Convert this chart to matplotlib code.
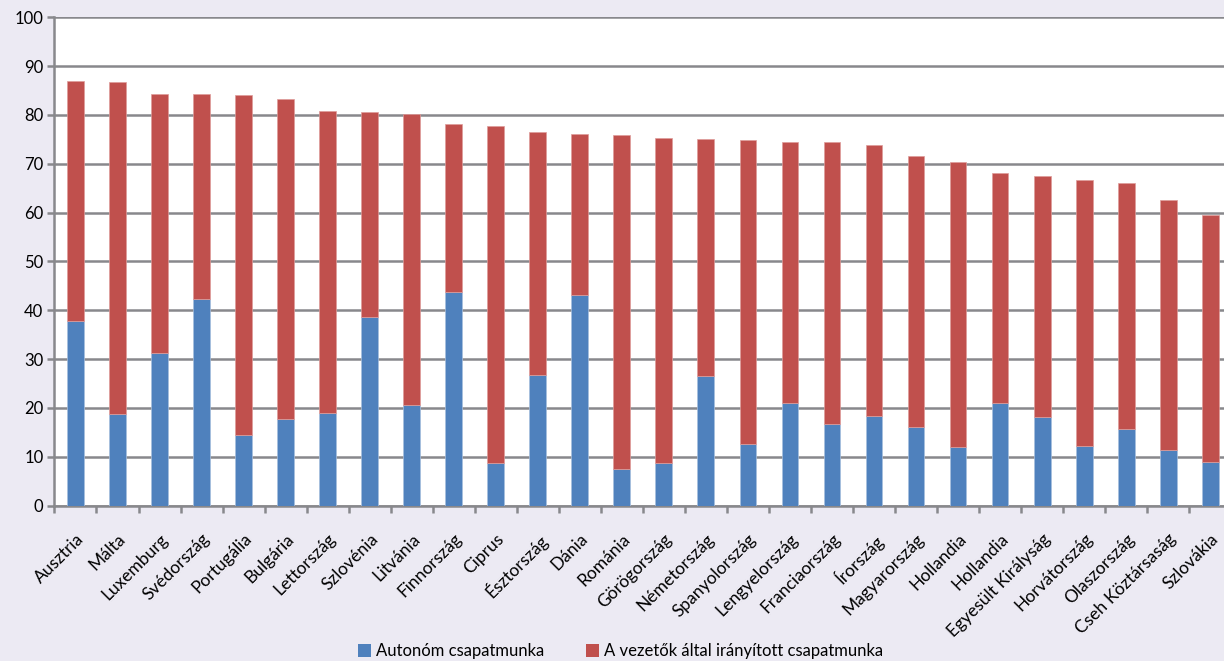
import numpy as np
import matplotlib.pyplot as plt
from matplotlib.patches import Patch

plt.rcParams['font.family'] = ['Lato', 'DejaVu Sans']

# Countries, sorted by total share of team work
countries = ['Ausztria', 'Málta', 'Luxemburg', 'Svédország', 'Portugália', 'Bulgária',
             'Lettország', 'Szlovénia', 'Litvánia', 'Finnország', 'Ciprus', 'Észtország',
             'Dánia', 'Románia', 'Görögország', 'Németország', 'Spanyolország',
             'Lengyelország', 'Franciaország', 'Írország', 'Magyarország', 'Hollandia',
             'Hollandia', 'Egyesült Királyság', 'Horvátország', 'Olaszország',
             'Cseh Köztársaság', 'Szlovákia']

# autonomous team work (%)
autonom = [37.8, 18.7, 31.3, 42.4, 14.4, 17.7, 18.9, 38.6, 20.6, 43.8, 8.7, 26.7,
           43.1, 7.5, 8.7, 26.5, 12.7, 21.0, 16.7, 18.4, 16.2, 12.0, 21.0, 18.1,
           12.2, 15.6, 11.5, 8.9]

# total team work (%)
total = [87.0, 86.8, 84.4, 84.4, 84.1, 83.2, 80.8, 80.7, 80.3, 78.1, 77.7, 76.5,
         76.1, 75.8, 75.2, 75.1, 74.9, 74.5, 74.4, 73.8, 71.7, 70.4, 68.1, 67.6,
         66.7, 66.1, 62.6, 59.5]

vezetett = [t - a for t, a in zip(total, autonom)]

blue = '#4F81BD'
red = '#C0504D'
bg = '#ECEAF3'
grid = '#88888C'

fig = plt.figure(figsize=(12.24, 6.61), dpi=100, facecolor=bg)
ax = fig.add_axes([0.0445, 0.235, 0.9614, 0.7388])
ax.set_facecolor('white')

x = np.arange(len(countries))
ax.bar(x, autonom, width=0.4, color=blue, edgecolor='#A7BFDE', linewidth=0.5, zorder=3)
ax.bar(x, vezetett, bottom=autonom, width=0.4, color=red, edgecolor='#DE9C9A',
       linewidth=0.5, zorder=3)

ax.set_xlim(-0.5, len(countries) - 0.5)
ax.set_ylim(0, 100)
ax.set_yticks(np.arange(0, 101, 10))
ax.yaxis.grid(True, color=grid, linewidth=1.8, zorder=0)
ax.set_axisbelow(True)

ax.set_xticks(np.arange(-0.5, len(countries), 1))
ax.set_xticklabels([])
ax.set_xticks(x, minor=True)
ax.set_xticklabels(countries, minor=True, rotation=45, ha='right',
                   rotation_mode='anchor', fontsize=12.5, color='black')
ax.tick_params(axis='x', which='major', length=5, width=1.8, color=grid, direction='out')
ax.tick_params(axis='x', which='minor', length=0, pad=18)
ax.tick_params(axis='y', length=5, width=1.8, color=grid, labelsize=12, pad=3)

for s in ['top', 'right']:
    ax.spines[s].set_visible(False)
for s in ['left', 'bottom']:
    ax.spines[s].set_color(grid)
    ax.spines[s].set_linewidth(1.8)

handles = [Patch(facecolor=blue, label='Autonóm csapatmunka'),
           Patch(facecolor=red, label='A vezetők által irányított csapatmunka')]
fig.legend(handles=handles, loc='lower center', bbox_to_anchor=(0.507, -0.02), ncol=2,
           frameon=False, fontsize=12, handlelength=0.8, handleheight=0.8,
           handletextpad=0.3, columnspacing=2.5)

fig.savefig('out.png', dpi=100, facecolor=bg)
